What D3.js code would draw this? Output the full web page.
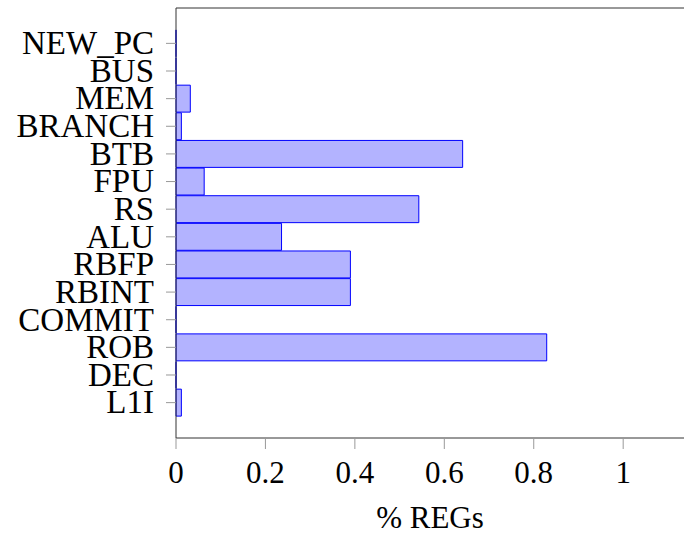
<!DOCTYPE html>
<html>
<head>
<meta charset="utf-8">
<script src="https://cdn.jsdelivr.net/npm/d3@7"></script>
<style>
  body { margin: 0; background: #fff; }
  text { font-family: "Liberation Serif", "DejaVu Serif", serif; fill: #000; }
</style>
</head>
<body>
<script>
// data
var units = ["NEW_PC","BUS","MEM","BRANCH","BTB","FPU","RS","ALU","RBFP","RBINT","COMMIT","ROB","DEC","L1I"]
var regs = [0, 0, 0.032, 0.012, 0.641, 0.063, 0.543, 0.236, 0.390, 0.390, 0, 0.829, 0, 0.012]
var xTicks = [0, 0.2, 0.4, 0.6, 0.8, 1]

var width = 684, height = 535
var plot = {left: 176, right: 684, top: 8, bottom: 438}

var svg = d3.select("body").append("svg")
  .attr("width", width)
  .attr("height", height)

var x = d3.scaleLinear().domain([0, 1.136]).range([plot.left, plot.right])
var y = d3.scaleLinear().domain([-1.28, units.length - 1 + 1.28]).range([plot.top, plot.bottom])
var step = y(1) - y(0)
var barH = step * 0.975

// bars (paths so that zero-length bars still show their outline)
svg.append("g").selectAll("path")
  .data(units)
  .enter().append("path")
  .attr("d", function(d, i){
    var y0 = y(i) - barH/2
    return "M" + x(0) + "," + y0 + "H" + x(regs[i]) + "V" + (y0 + barH) + "H" + x(0) + "Z"
  })
  .style("fill", "#b3b3ff")
  .style("stroke", "#0000ff")
  .style("stroke-width", 1)

// frame
svg.append("path")
  .attr("d", "M" + (plot.right + 2) + "," + plot.top + "H" + plot.left + "V" + plot.bottom + "H" + (plot.right + 2))
  .style("fill", "none")
  .style("stroke", "#333")
  .style("stroke-width", 1)

// y axis ticks and labels
var yg = svg.append("g")
yg.selectAll("line")
  .data(units)
  .enter().append("line")
  .attr("x1", plot.left - 10)
  .attr("x2", plot.left)
  .attr("y1", function(d, i){ return y(i) })
  .attr("y2", function(d, i){ return y(i) })
  .style("stroke", "#999")
  .style("stroke-width", 1)
yg.selectAll("text")
  .data(units)
  .enter().append("text")
  .attr("x", plot.left - 22)
  .attr("y", function(d, i){ return y(i) + 10.8 })
  .attr("text-anchor", "end")
  .style("font-size", "33px")
  .text(function(d){ return d })

// x axis ticks and labels
var xg = svg.append("g")
xg.selectAll("line")
  .data(xTicks)
  .enter().append("line")
  .attr("x1", function(d){ return x(d) })
  .attr("x2", function(d){ return x(d) })
  .attr("y1", plot.bottom)
  .attr("y2", plot.bottom + 11)
  .style("stroke", "#999")
  .style("stroke-width", 1)
xg.selectAll("text")
  .data(xTicks)
  .enter().append("text")
  .attr("x", function(d){ return x(d) })
  .attr("y", 483)
  .attr("text-anchor", "middle")
  .style("font-size", "31px")
  .text(function(d){ return d3.format("~g")(d) })

svg.append("text")
  .attr("x", (plot.left + plot.right) / 2)
  .attr("y", 528)
  .attr("text-anchor", "middle")
  .style("font-size", "31px")
  .text("% REGs")
</script>
</body>
</html>
